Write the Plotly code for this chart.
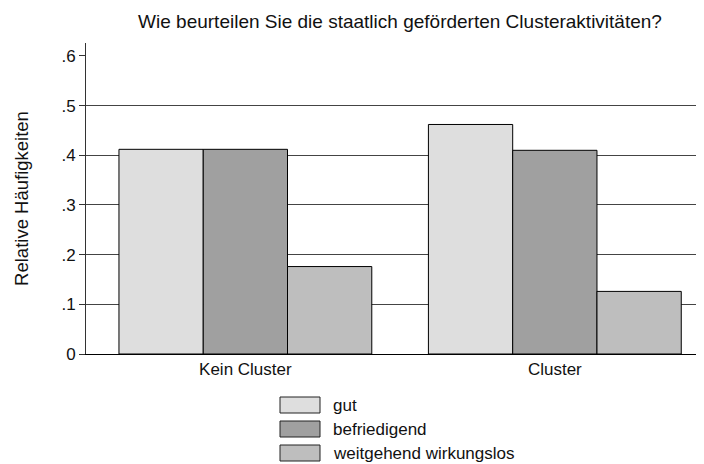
import plotly.graph_objects as go

categories = ["Kein Cluster", "Cluster"]
series = ["gut", "befriedigend", "weitgehend wirkungslos"]
values_gut = [0.412, 0.462]
values_befriedigend = [0.412, 0.410]
values_wirkungslos = [0.176, 0.126]
colors = ["#dedede", "#a0a0a0", "#bebebe"]
y_ticks = [0, 0.1, 0.2, 0.3, 0.4, 0.5, 0.6]
y_ticktext = ["0", ".1", ".2", ".3", ".4", ".5", ".6"]
grid_ticks = [0.1, 0.2, 0.3, 0.4, 0.5]

# page body has an 8px margin, so figure pixels are offset by 8
OFF = 8
W, H = 704 - OFF, 464 - OFF
L, R, T, B = 86 - OFF, 0, 43 - OFF, 464 - 354
font = "Liberation Sans, Arial, sans-serif"


def px_x(p):
    return (p - OFF - L) / (W - L - R)


def px_y(p):
    return (H - B - (p - OFF)) / (H - T - B)


fig = go.Figure()
x_pos = list(range(len(categories)))
for name, vals, col in zip(series, [values_gut, values_befriedigend, values_wirkungslos], colors):
    fig.add_trace(go.Bar(
        x=x_pos, y=vals, name=name,
        marker=dict(color=col, line=dict(color="black", width=1)),
        showlegend=False,
    ))

# invisible trace so the grid axis gets drawn
fig.add_trace(go.Scatter(x=[0], y=[0], yaxis="y2", mode="markers",
                         marker=dict(opacity=0), showlegend=False, hoverinfo="skip"))

# legend drawn by hand (large Stata-style keys)
shapes = []
annotations = []
for i, (name, col) in enumerate(zip(series, colors)):
    top = 397 + i * 24
    shapes.append(dict(type="rect", xref="paper", yref="paper",
                       x0=px_x(280), x1=px_x(320), y0=px_y(top), y1=px_y(top + 16),
                       fillcolor=col, line=dict(color="#222", width=1)))
    annotations.append(dict(xref="paper", yref="paper", x=px_x(331), y=px_y(top + 8),
                            text=name, showarrow=False, xanchor="left", yanchor="middle",
                            font=dict(size=17, color="#111", family=font)))

fig.update_layout(
    width=W, height=H,
    margin=dict(l=L, r=R, t=T, b=B),
    paper_bgcolor="white", plot_bgcolor="white",
    font=dict(family=font, size=17, color="#111"),
    title=dict(text="Wie beurteilen Sie die staatlich geförderten Clusteraktivitäten?",
               x=(400 - OFF) / W, xanchor="center", y=1 - (21 - OFF) / H, yanchor="middle",
               font=dict(size=19, color="#111")),
    barmode="group", bargap=0.183, bargroupgap=0,
    xaxis=dict(range=[-0.515, 1.482], tickvals=x_pos, ticktext=categories,
               showline=True, linecolor="black", linewidth=1, ticks="",
               showgrid=False, zeroline=False, tickfont=dict(size=17)),
    yaxis=dict(range=[0, 0.626], tickvals=y_ticks, ticktext=y_ticktext,
               showline=True, linecolor="#333", linewidth=1, ticks="outside",
               ticklen=6, tickcolor="#333", showgrid=False, zeroline=False,
               tickfont=dict(size=17),
               title=dict(text="Relative Häufigkeiten", standoff=27, font=dict(size=18.5))),
    yaxis2=dict(range=[0, 0.626], overlaying="y", tickvals=grid_ticks,
                showticklabels=False, ticks="", showgrid=True, gridcolor="#444",
                gridwidth=1, zeroline=False, showline=False),
    shapes=shapes,
    annotations=annotations,
)

fig.write_html("out.html")
